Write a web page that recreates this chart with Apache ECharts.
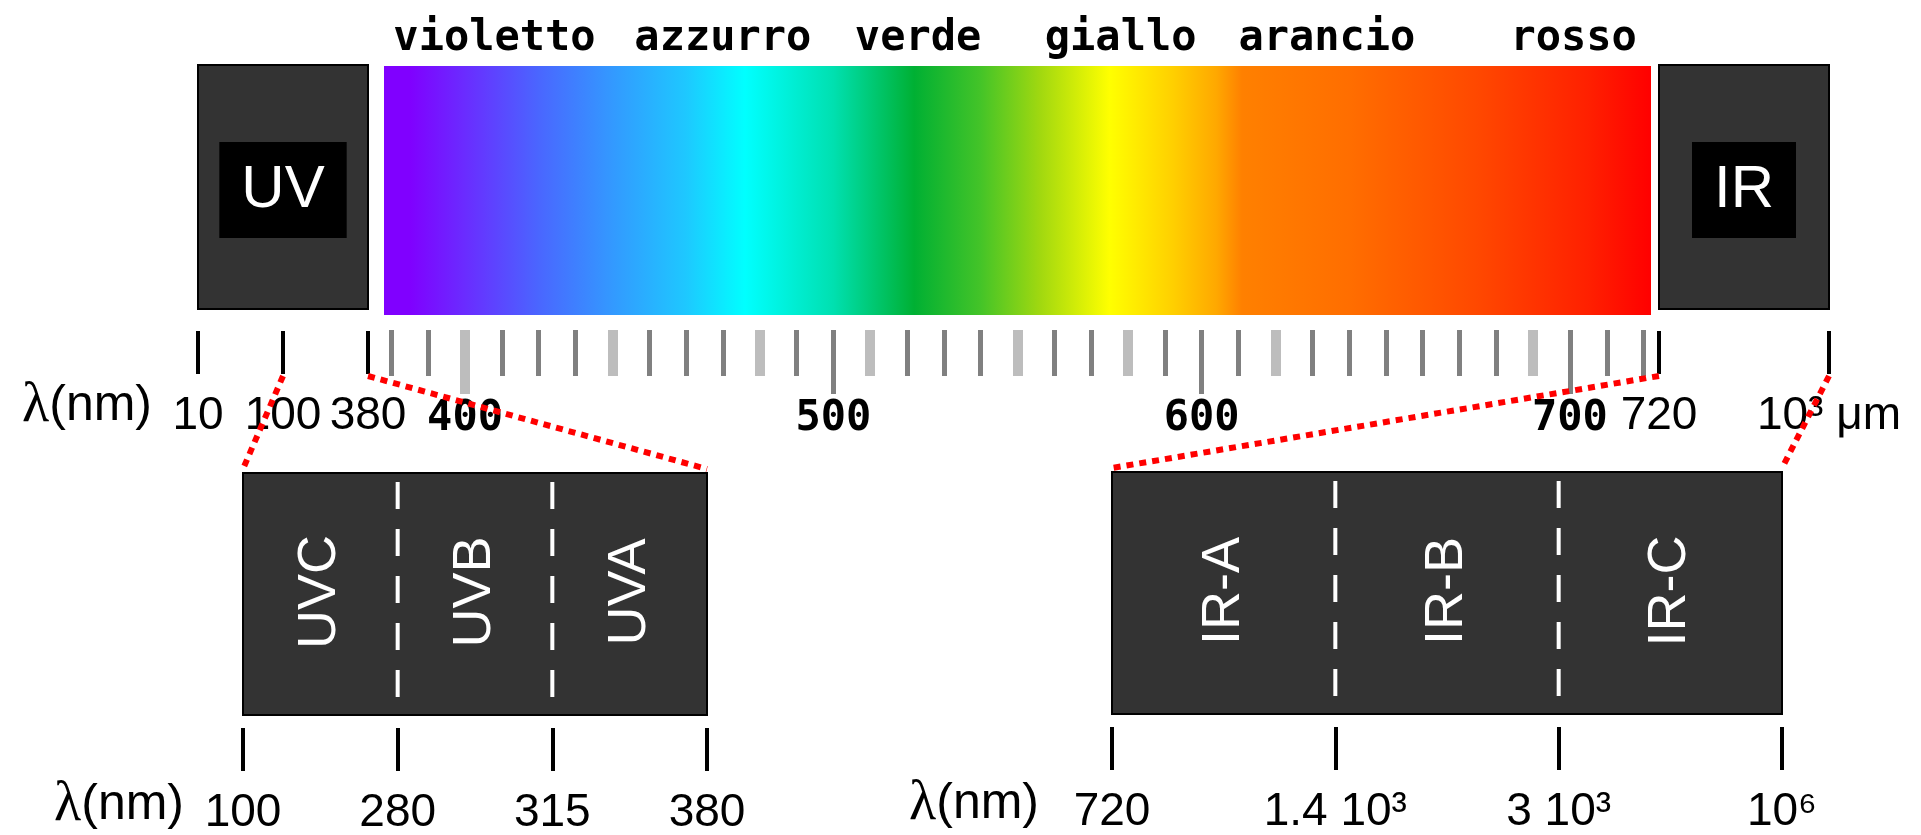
<!DOCTYPE html>
<html>
<head>
<meta charset="utf-8">
<script src="https://cdn.jsdelivr.net/npm/echarts@6/dist/echarts.min.js"></script>
<style>
html, body { margin: 0; padding: 0; background: #fff; }
#myChart { width: 1921px; height: 835px; }
</style>
</head>
<body>
<div id="myChart"></div>
<script>
// colour names above the visible band (nm where each name sits)
var colorNames = ['violetto', 'azzurro', 'verde', 'giallo', 'arancio', 'rosso'];
var colorNamePos = [408, 470, 523, 578, 634, 701];

// visible spectrum colour stops (nm / colour)
var specNm = [378, 385, 400, 420, 440, 460, 476, 500, 522, 540, 556, 575, 592, 604, 611, 640, 675, 705, 722];
var specColor = ['#8000ff', '#8000ff', '#6a2cff', '#4a66ff', '#3399ff', '#1ec8ff', '#00ffff', '#00e0b0', '#00b033',
	'#44c428', '#a0d810', '#ffff00', '#ffd000', '#ffa800', '#ff8000', '#ff6e00', '#ff4800', '#ff2000', '#ff0000'];

// nm scale under the band
var scaleTicks = [380, 390, 400, 410, 420, 430, 440, 450, 460, 470, 480, 490, 500, 510, 520, 530, 540, 550,
	560, 570, 580, 590, 600, 610, 620, 630, 640, 650, 660, 670, 680, 690, 700, 710, 720];
var lightTicks = [400, 440, 480, 510, 550, 580, 620, 690];
var longTicks = [400, 500, 600, 700];

var uvTicks = ['10', '100', '380'];
var irTicks = ['720', '10³ μm'];
var uvBandTicks = ['100', '280', '315', '380'];
var uvBands = ['UVC', 'UVB', 'UVA'];
var irBandTicks = ['720', '1.4 10³', '3 10³', '10⁶'];
var irBands = ['IR-A', 'IR-B', 'IR-C'];

var darkShort = scaleTicks.filter(function (v) { return lightTicks.indexOf(v) < 0 && longTicks.indexOf(v) < 0; });
var lightShort = scaleTicks.filter(function (v) { return lightTicks.indexOf(v) >= 0 && longTicks.indexOf(v) < 0; });
var darkLong = longTicks.filter(function (v) { return lightTicks.indexOf(v) < 0; });
var lightLong = longTicks.filter(function (v) { return lightTicks.indexOf(v) >= 0; });

var arial = '"Liberation Sans", Arial, sans-serif';
var mono = '"DejaVu Sans Mono", monospace';
var lambdaName = '{l|λ}(nm)';
var lambdaRich = { l: { fontFamily: '"Liberation Serif", serif', fontSize: 56, color: '#000' } };

var myChart = echarts.init(document.getElementById('myChart'));

// evenly spaced schematic ticks: value axes over the tick indexes (one for ticks, one for labels)
function blackTickAxes(grid, data, offset, nameGap, namePad) {
	var idx = data.map(function (d, i) { return i; });
	var ticks = {
		type: 'value', gridIndex: grid, min: 0, max: data.length - 1, position: 'bottom', offset: offset,
		axisLine: { show: false, onZero: false }, splitLine: { show: false }, axisLabel: { show: false },
		axisTick: { show: true, customValues: idx, length: 43, lineStyle: { color: '#000', width: 4 } }
	};
	var labels = {
		type: 'value', gridIndex: grid, min: 0, max: data.length - 1, position: 'bottom', offset: offset,
		axisLine: { show: false, onZero: false }, splitLine: { show: false }, axisTick: { show: false },
		axisLabel: {
			show: true, customValues: idx, margin: 62, color: '#000', fontFamily: arial, fontSize: 46, lineHeight: 46,
			formatter: function (v) { return data[v]; }
		}
	};
	if (nameGap != null) {
		labels.name = lambdaName;
		labels.nameLocation = 'start';
		labels.nameGap = nameGap;
		labels.nameTextStyle = { color: '#000', fontFamily: arial, fontSize: 50, lineHeight: 50, verticalAlign: 'top',
			padding: [namePad, 0, 0, 0], rich: lambdaRich };
	}
	return [ticks, labels];
}

function scaleAxis(ticks, len, color, width) {
	return {
		type: 'value', gridIndex: 1, min: 378, max: 722, position: 'bottom', offset: 15,
		axisLine: { show: false, onZero: false }, splitLine: { show: false },
		axisTick: { show: true, customValues: ticks, length: len, lineStyle: { color: color, width: width } },
		axisLabel: { show: false }
	};
}

function boxItem(text, n) {
	return function (params, api) {
		var a = api.coord([0, 0]);
		var b = api.coord([n - 1, 1]);
		return {
			type: 'group',
			children: [
				{ type: 'rect', shape: { x: a[0], y: b[1], width: b[0] - a[0], height: a[1] - b[1] },
					style: { fill: '#333333', stroke: '#000', lineWidth: 2 } },
				{ type: 'text', x: (a[0] + b[0]) / 2, y: (a[1] + b[1]) / 2 + 3,
					style: { text: text, fill: '#fff', font: '60px ' + arial, align: 'center', verticalAlign: 'middle',
						backgroundColor: '#000', padding: [19, 22, 17, 22] } }
			]
		};
	};
}

function bandItem(names) {
	return function (params, api) {
		var i = params.dataIndex;
		var a = api.coord([i, 0]);
		var b = api.coord([i + 1, 1]);
		var kids = [
			{ type: 'text', z2: 5, x: (a[0] + b[0]) / 2, y: (a[1] + b[1]) / 2 - 2, rotation: Math.PI / 2,
				style: { text: names[i], fill: '#fff', font: '54px ' + arial, align: 'center', verticalAlign: 'middle' } }
		];
		if (i > 0) {
			kids.push({ type: 'line', z2: 5, shape: { x1: a[0], y1: b[1] + 9, x2: a[0], y2: a[1] - 10 },
				style: { stroke: '#fff', lineWidth: 4, lineDash: [27, 20] } });
		} else {
			// whole detail box, drawn once under the band texts
			var c = api.coord([names.length, 1]);
			kids.push({ type: 'rect', z2: 0, shape: { x: a[0], y: c[1], width: c[0] - a[0], height: a[1] - c[1] },
				style: { fill: '#333333', stroke: '#000', lineWidth: 2 } });
		}
		return { type: 'group', children: kids };
	};
}

var xAxes = [].concat(
	blackTickAxes(0, uvTicks, 22, 46, 50),                 // 0, 1
	[{                                                      // 2: colour names on top
		type: 'value', gridIndex: 1, min: 378, max: 722, position: 'top',
		axisLine: { show: false, onZero: false }, axisTick: { show: false }, splitLine: { show: false },
		axisLabel: {
			show: true, customValues: colorNamePos, margin: 6, color: '#000',
			fontFamily: mono, fontWeight: 'bold', fontSize: 42, lineHeight: 42,
			formatter: function (v) { return colorNames[colorNamePos.indexOf(v)]; }
		}
	},
	scaleAxis(darkShort, 46, '#808080', 5),                 // 3
	scaleAxis(lightShort, 46, '#bdbdbd', 10),               // 4
	scaleAxis(darkLong, 64, '#808080', 5),                  // 5
	scaleAxis(lightLong, 64, '#bdbdbd', 10),                // 6
	{                                                       // 7: nm labels
		type: 'value', gridIndex: 1, min: 378, max: 722, position: 'bottom', offset: 15,
		axisLine: { show: false, onZero: false }, axisTick: { show: false }, splitLine: { show: false },
		axisLabel: {
			show: true, customValues: longTicks, margin: 68, color: '#000',
			fontFamily: mono, fontWeight: 'bold', fontSize: 42, lineHeight: 42
		}
	}],
	blackTickAxes(2, irTicks, 22, null),                    // 8, 9
	blackTickAxes(3, uvBandTicks, 13, 59, 52),              // 10, 11
	blackTickAxes(4, irBandTicks, 13, 73, 52)               // 12, 13
);

var gridBase = { outerBoundsMode: 'none', containLabel: false };
var option = {
	animation: false,
	backgroundColor: '#fff',
	grid: [
		{ left: 198, top: 65, width: 170, height: 244 },   // UV box
		{ left: 384, top: 66, width: 1267, height: 249 },  // visible band
		{ left: 1659, top: 65, width: 170, height: 244 },  // IR box
		{ left: 243, top: 473, width: 464, height: 242 },  // UV detail
		{ left: 1112, top: 472, width: 670, height: 242 }  // IR detail
	].map(function (g) { return Object.assign({}, gridBase, g); }),
	xAxis: xAxes,
	yAxis: [0, 1, 2, 3, 4].map(function (g) {
		return { type: 'value', gridIndex: g, min: 0, max: 1, show: false };
	}),
	series: [
		{ type: 'custom', xAxisIndex: 0, yAxisIndex: 0, data: [0], renderItem: boxItem('UV', uvTicks.length), silent: true },
		{
			type: 'custom', xAxisIndex: 2, yAxisIndex: 1, data: [0], silent: true,
			renderItem: function (params, api) {
				var lo = specNm[0], hi = specNm[specNm.length - 1];
				var a = api.coord([lo, 0]), b = api.coord([hi, 1]);
				var stops = specNm.map(function (nm, k) {
					return { offset: (nm - lo) / (hi - lo), color: specColor[k] };
				});
				return {
					type: 'rect', shape: { x: a[0], y: b[1], width: b[0] - a[0], height: a[1] - b[1] },
					style: { fill: new echarts.graphic.LinearGradient(0, 0, 1, 0, stops) }
				};
			}
		},
		{ type: 'custom', xAxisIndex: 8, yAxisIndex: 2, data: [0], renderItem: boxItem('IR', irTicks.length), silent: true },
		{ type: 'custom', xAxisIndex: 10, yAxisIndex: 3, data: [0, 1, 2], renderItem: bandItem(uvBands), silent: true },
		{ type: 'custom', xAxisIndex: 12, yAxisIndex: 4, data: [0, 1, 2], renderItem: bandItem(irBands), silent: true }
	]
};

myChart.setOption(option);

// red dotted zoom lines: from a tick of the upper scale to a corner of the detail box
var links = [
	{ top: [0, 0, uvTicks, '100'], low: [10, 3, uvBandTicks, '100'] },
	{ top: [0, 0, uvTicks, '380'], low: [10, 3, uvBandTicks, '380'] },
	{ top: [8, 2, irTicks, '720'], low: [12, 4, irBandTicks, '720'] },
	{ top: [8, 2, irTicks, '10³ μm'], low: [12, 4, irBandTicks, '10⁶'] }
];
var lines = links.map(function (lk) {
	var x1 = myChart.convertToPixel({ xAxisIndex: lk.top[0] }, lk.top[2].indexOf(lk.top[3]));
	var y1 = myChart.convertToPixel({ yAxisIndex: lk.top[1] }, 0) + 22 + 45;
	var x2 = myChart.convertToPixel({ xAxisIndex: lk.low[0] }, lk.low[2].indexOf(lk.low[3]));
	var y2 = myChart.convertToPixel({ yAxisIndex: lk.low[1] }, 1) - 4;
	return {
		type: 'line', z: 100, silent: true,
		shape: { x1: x1, y1: y1, x2: x2, y2: y2 },
		style: { stroke: '#ff0000', lineWidth: 6, lineDash: [7, 6] }
	};
});
myChart.setOption({ graphic: { elements: lines } });

window.addEventListener('resize', function () {
	if (myChart != null && myChart != undefined) {
		myChart.resize();
	}
});
</script>
</body>
</html>
